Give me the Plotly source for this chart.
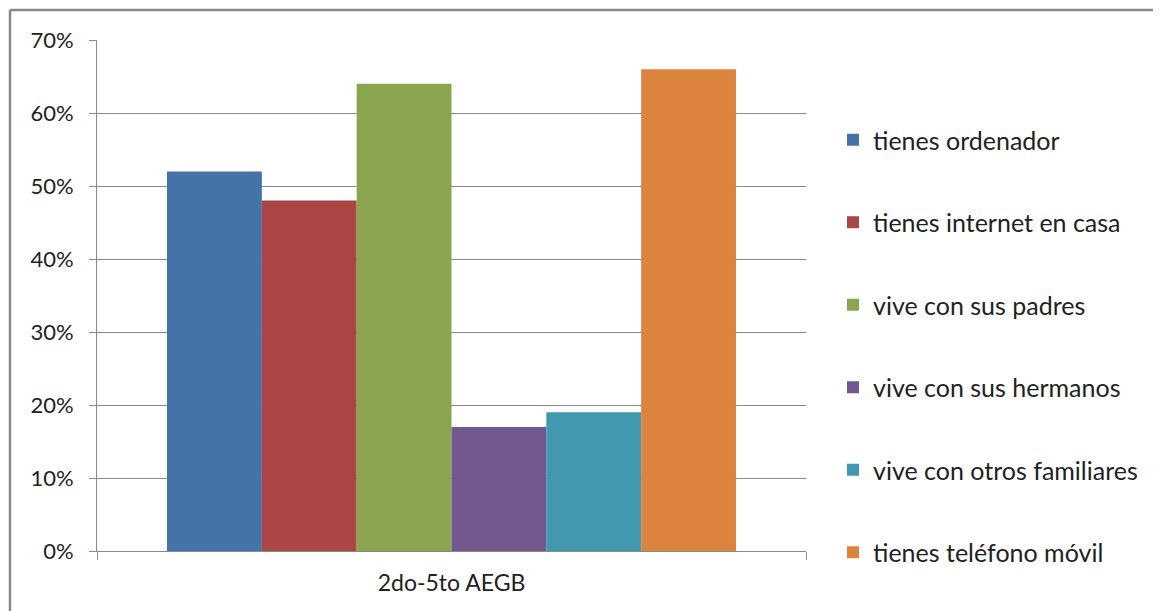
import plotly.graph_objects as go

categories = ["2do-5to AEGB"]
series_names = [
    "tienes ordenador",
    "tienes internet en casa",
    "vive con sus padres",
    "vive con sus hermanos",
    "vive con otros familiares",
    "tienes teléfono móvil",
]
series_values = [0.52, 0.48, 0.64, 0.17, 0.19, 0.66]
series_colors = ["#4572A7", "#AA4643", "#89A54E", "#71588F", "#4198AF", "#DB843D"]
y_ticks = [0, 0.1, 0.2, 0.3, 0.4, 0.5, 0.6, 0.7]

# page has an 8px body margin; work in page coordinates then shift
OFF = 8
W, H = 1161 - OFF, 611 - OFF
L, R, T, B = 97 - OFF, 806 - OFF, 40 - OFF, 551 - OFF
PW, PH = R - L, B - T


def px(x):
    return (x - OFF - L) / PW


def py(y):
    return (B - (y - OFF)) / PH


fig = go.Figure()
for i, (name, val, col) in enumerate(zip(series_names, series_values, series_colors)):
    fig.add_trace(go.Bar(
        x=categories, y=[val], name=name,
        marker=dict(color=col, line=dict(width=0)),
        legendgroup=f"g{i}",
    ))

font_family = "Lato, 'Open Sans', sans-serif"
fig.update_layout(
    width=W, height=H,
    margin=dict(l=L, r=W - R, t=T, b=H - B, autoexpand=False),
    paper_bgcolor="white", plot_bgcolor="white",
    barmode="group", bargap=0.1975, bargroupgap=0,
    font=dict(family=font_family, size=22, color="#222222"),
    showlegend=True,
    legend=dict(
        x=px(833), xanchor="left",
        y=py(117), yanchor="top",
        tracegroupgap=47,
        traceorder="grouped",
        font=dict(family=font_family, size=25, color="#222222"),
        bgcolor="rgba(0,0,0,0)",
    ),
    xaxis=dict(
        type="category", range=[-0.5, 0.5],
        showline=True, linecolor="#888888", linewidth=1,
        ticks="outside", tickson="boundaries", ticklen=8, tickcolor="#888888",
        showgrid=False,
        ticklabelstandoff=11,
        tickfont=dict(size=23, color="#222222"),
    ),
    yaxis=dict(
        range=[0, 0.7], tickvals=y_ticks, tickformat=".0%",
        showline=True, linecolor="#888888", linewidth=1,
        ticks="outside", ticklen=7, tickcolor="#888888",
        showgrid=True, gridcolor="#888888", gridwidth=1,
        zeroline=False,
        ticklabelstandoff=11,
        tickfont=dict(size=22, color="#222222"),
    ),
    shapes=[
        dict(type="line", xref="paper", yref="paper",
             x0=px(10), x1=px(1170), y0=py(10), y1=py(10),
             line=dict(color="#888888", width=2.5)),
        dict(type="line", xref="paper", yref="paper",
             x0=px(10), x1=px(10), y0=py(10), y1=py(620),
             line=dict(color="#888888", width=2.5)),
    ],
)

fig.write_html("out.html")
